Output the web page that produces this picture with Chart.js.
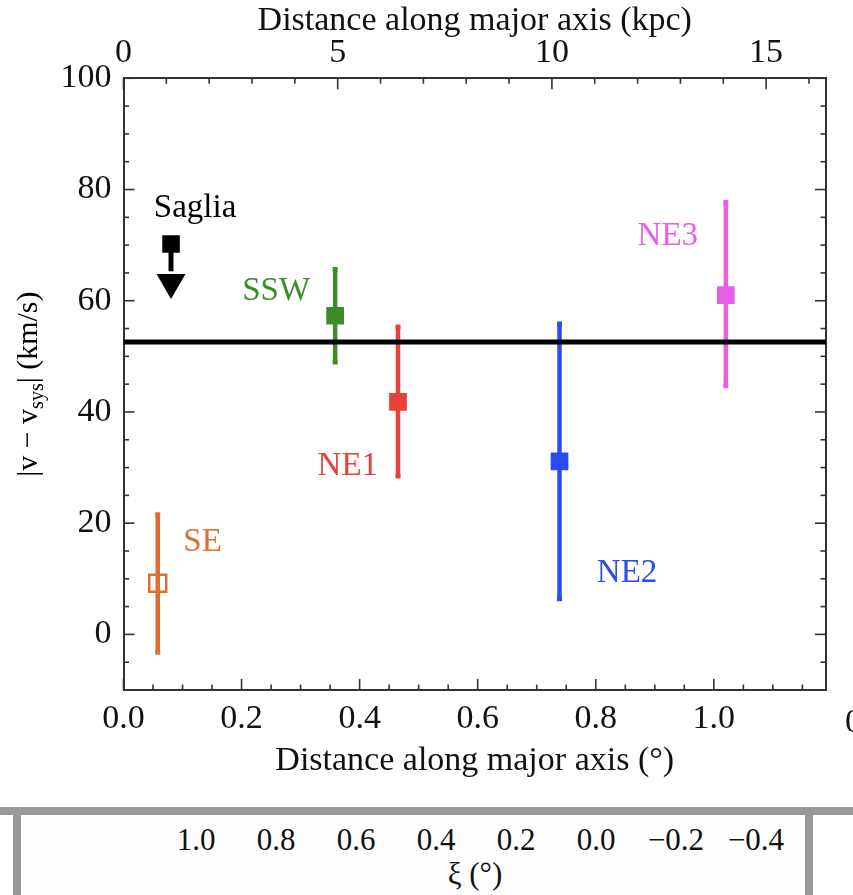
<!DOCTYPE html>
<html>
<head>
<meta charset="utf-8">
<script src="https://cdn.jsdelivr.net/npm/chart.js@4/dist/chart.umd.min.js"></script>
<style>
  html, body { margin: 0; padding: 0; background: #fff; }
  #wrap { position: relative; width: 853px; height: 895px; overflow: hidden; background: #fff; }
  #c { position: absolute; left: 0; top: 0; }
  #lower { position: absolute; left: 0; top: 807px; width: 853px; height: 88px; }
  #lower .bar { position: absolute; left: 0; top: 0; width: 853px; height: 8px; background: #999; }
  #lower .inner { position: absolute; left: 21px; top: 8px; width: 784px; height: 80px; background: #fdfdfd; }
  #lower .vl { position: absolute; left: 13px; top: 8px; width: 8px; height: 80px; background: #999; }
  #lower .vr { position: absolute; left: 805px; top: 8px; width: 8px; height: 80px; background: #999; }
  #lower .tk { position: absolute; top: 16px; width: 80px; margin-left: -40px; text-align: center;
               font: 31px 'Liberation Serif', 'Times New Roman', serif; color: #111; line-height: 34px; }
  #lower .ttl { position: absolute; left: 395px; top: 50px; width: 160px; text-align: center;
                font: 31px 'Liberation Serif', 'Times New Roman', serif; color: #111; line-height: 34px; }
</style>
</head>
<body>
<div id="wrap">
  <canvas id="c" width="853" height="895"></canvas>
  <div id="lower">
    <div class="bar"></div>
    <div class="inner"></div>
    <div class="vl"></div>
    <div class="vr"></div>
    <div id="xiTicks"></div>
    <div class="ttl">ξ (°)</div>
  </div>
</div>
<script>
// ---------------- data ----------------
const regions   = ['SE', 'SSW', 'NE1', 'NE2', 'NE3'];
const distDeg   = [0.058, 0.3585, 0.465, 0.7386, 1.0203];   // distance along major axis (deg)
const velOffset = [9.2, 57.3, 41.8, 31.1, 61.0];            // |v - v_sys| (km/s)
const errLow    = [-3.2, 49.0, 28.5, 6.4, 44.7];
const errHigh   = [21.5, 65.6, 55.3, 55.8, 77.7];
const colors    = ['#DD6F2F', '#3C8C28', '#E8413A', '#2B4BF5', '#E55FEA'];
const openMarker = [true, false, false, false, false];

// Saglia upper limit
const sagliaX = 0.0805;
const sagliaY = 70.2;
const sagliaStemEnd = 65.3;
const sagliaArrowY = 63.3;

// mean systemic offset line
const refLineY = 52.6;

// axis ranges / ticks
const xMin = 0, xMax = 1.19;           // degrees
const kpcPerDeg = 13.78;               // top axis conversion
const yMin = -10, yMax = 100;
const xTickStep = 0.05, xLabelStep = 0.2;
const kpcTickStep = 1, kpcLabelStep = 5;
const yTickStep = 5, yLabelStep = 20;

// region text labels (data coordinates, text baseline)
const noteText  = ['Saglia', 'SSW', 'NE1', 'SE', 'NE2', 'NE3'];
const noteX     = [0.1212, 0.2585, 0.380, 0.134, 0.853, 0.922];
const noteY     = [75.0, 60.1, 28.7, 15.0, 9.4, 70.1];
const noteColor = ['#000000', '#3C8C28', '#E8413A', '#DD6F2F', '#2B4BF5', '#E55FEA'];

// lower panel (xi axis) tick labels
const xiTickLabels = ['1.0', '0.8', '0.6', '0.4', '0.2', '0.0', '\u22120.2', '\u22120.4'];

// ---------------- build ----------------
const SERIF = "'Liberation Serif', 'Times New Roman', serif";
const FRAME = '#333';

const datasets = [];
datasets.push({
  label: 'mean', data: [{x: xMin, y: refLineY}, {x: xMax, y: refLineY}],
  showLine: true, borderColor: '#000', borderWidth: 5, pointRadius: 0, order: 0
});
regions.forEach((r, i) => {
  datasets.push({
    label: r + ' err', data: [{x: distDeg[i], y: errLow[i]}, {x: distDeg[i], y: errHigh[i]}],
    showLine: true, borderColor: colors[i], borderWidth: 4.5,
    pointStyle: 'rect', pointRadius: 3.5, pointBackgroundColor: colors[i], pointBorderWidth: 0,
    order: 3
  });
  datasets.push({
    label: r, data: [{x: distDeg[i], y: velOffset[i]}],
    pointStyle: 'rect',
    pointRadius: openMarker[i] ? 12 : 12.5,
    pointBackgroundColor: openMarker[i] ? 'rgba(0,0,0,0)' : colors[i],
    pointBorderColor: colors[i],
    pointBorderWidth: openMarker[i] ? 2.5 : 0,
    order: 2
  });
});
datasets.push({
  label: 'Saglia stem', data: [{x: sagliaX, y: sagliaY}, {x: sagliaX, y: sagliaStemEnd}],
  showLine: true, borderColor: '#000', borderWidth: 5, pointRadius: 0, order: 3
});
datasets.push({
  label: 'Saglia', data: [{x: sagliaX, y: sagliaY}],
  pointStyle: 'rect', pointRadius: 12.4, pointBackgroundColor: '#000', pointBorderWidth: 0, order: 2
});
datasets.push({
  label: 'Saglia arrow', data: [{x: sagliaX, y: sagliaArrowY}],
  pointStyle: 'triangle', pointRotation: 180, pointRadius: 16.7,
  pointBackgroundColor: '#000', pointBorderWidth: 0, order: 2
});

function isMult(v, step) { return Math.abs(v / step - Math.round(v / step)) < 1e-6; }

const inTicks = {
  id: 'inTicks',
  afterDraw(chart) {
    const ctx = chart.ctx, a = chart.chartArea;
    const defs = [
      {id: 'x', edge: 'bottom', major: xLabelStep},
      {id: 'x2', edge: 'top', major: kpcLabelStep},
      {id: 'y', edge: 'left', major: yLabelStep},
      {id: 'y2', edge: 'right', major: yLabelStep}
    ];
    ctx.save();
    ctx.strokeStyle = FRAME;
    ctx.lineWidth = 1.6;
    defs.forEach(d => {
      const s = chart.scales[d.id];
      s.ticks.forEach(t => {
        const len = isMult(t.value, d.major) ? 11 : 5.5;
        const p = s.getPixelForValue(t.value);
        ctx.beginPath();
        if (d.edge === 'bottom') { ctx.moveTo(p, a.bottom); ctx.lineTo(p, a.bottom - len); }
        if (d.edge === 'top')    { ctx.moveTo(p, a.top);    ctx.lineTo(p, a.top + len); }
        if (d.edge === 'left')   { ctx.moveTo(a.left, p);   ctx.lineTo(a.left + len, p); }
        if (d.edge === 'right')  { ctx.moveTo(a.right, p);  ctx.lineTo(a.right - len, p); }
        ctx.stroke();
      });
    });
    ctx.restore();
  }
};

const notes = {
  id: 'notes',
  afterDatasetsDraw(chart) {
    const ctx = chart.ctx, xs = chart.scales.x, ys = chart.scales.y;
    ctx.save();
    ctx.font = '33px ' + SERIF;
    ctx.textAlign = 'center';
    ctx.textBaseline = 'alphabetic';
    noteText.forEach((t, i) => {
      ctx.fillStyle = noteColor[i];
      ctx.fillText(t, xs.getPixelForValue(noteX[i]), ys.getPixelForValue(noteY[i]));
    });
    // clipped label of the neighbouring panel at the right edge
    ctx.fillStyle = '#111';
    ctx.textAlign = 'left';
    ctx.font = '34px ' + SERIF;
    ctx.fillText('0.0', chart.chartArea.right + 19, chart.chartArea.bottom + 42);
    // y-axis title with subscript
    const a = chart.chartArea;
    ctx.translate(37, (a.top + a.bottom) / 2);
    ctx.rotate(-Math.PI / 2);
    const parts = [
      {t: '|v \u2212 v', f: '30px ' + SERIF, dy: 0},
      {t: 'sys', f: '20px ' + SERIF, dy: 6},
      {t: '| (km/s)', f: '30px ' + SERIF, dy: 0}
    ];
    let total = 0;
    parts.forEach(p => { ctx.font = p.f; p.w = ctx.measureText(p.t).width; total += p.w; });
    let x = -total / 2;
    ctx.fillStyle = '#000';
    ctx.textAlign = 'left';
    parts.forEach(p => { ctx.font = p.f; ctx.fillText(p.t, x, p.dy); x += p.w; });
    ctx.restore();
  }
};

const tickFont = {family: SERIF, size: 34};
const titleFont = {family: SERIF, size: 34};
const common = {grid: {display: false, drawTicks: false}, border: {display: true, color: FRAME, width: 2}};

new Chart(document.getElementById('c'), {
  type: 'scatter',
  data: {datasets},
  options: {
    responsive: false,
    animation: false,
    devicePixelRatio: 1,
    layout: {padding: 0},
    plugins: {legend: {display: false}, tooltip: {enabled: false}},
    scales: {
      x: {
        type: 'linear', position: 'bottom', min: xMin, max: xMax, ...common,
        ticks: {stepSize: xTickStep, includeBounds: false, autoSkip: false, maxTicksLimit: 200, maxRotation: 0,
                padding: 9, color: '#111', font: tickFont,
                callback: v => isMult(v, xLabelStep) ? v.toFixed(1) : ''},
        title: {display: true, text: 'Distance along major axis (\u00B0)', color: '#111',
                font: titleFont, padding: {top: 0, bottom: 114}},
        afterFit: s => { s.height = 205; }
      },
      x2: {
        type: 'linear', position: 'top', min: xMin * kpcPerDeg, max: xMax * kpcPerDeg, ...common,
        ticks: {stepSize: kpcTickStep, includeBounds: false, autoSkip: false, maxTicksLimit: 200, maxRotation: 0,
                padding: 5, color: '#111', font: tickFont,
                callback: v => isMult(v, kpcLabelStep) ? String(Math.round(v)) : ''},
        title: {display: true, text: 'Distance along major axis (kpc)', color: '#111',
                font: titleFont, padding: {top: 1, bottom: 0}},
        afterFit: s => { s.height = 78.3; }
      },
      y: {
        type: 'linear', position: 'left', min: yMin, max: yMax, ...common,
        ticks: {stepSize: yTickStep, includeBounds: false, autoSkip: false, maxTicksLimit: 200,
                padding: 12, color: '#111', font: tickFont,
                callback: v => isMult(v, yLabelStep) ? String(v) : ''},
        afterFit: s => { s.width = 123.5; }
      },
      y2: {
        type: 'linear', position: 'right', min: yMin, max: yMax, ...common,
        ticks: {stepSize: yTickStep, includeBounds: false, autoSkip: false, maxTicksLimit: 200,
                padding: 0, font: tickFont, callback: () => ''},
        afterFit: s => { s.width = 27; }
      }
    }
  },
  plugins: [inTicks, notes]
});

// lower panel tick labels
const xiBox = document.getElementById('xiTicks');
xiTickLabels.forEach((t, i) => {
  const d = document.createElement('div');
  d.className = 'tk';
  d.style.left = (196 + 80 * i) + 'px';
  d.textContent = t;
  xiBox.appendChild(d);
});
</script>
</body>
</html>
